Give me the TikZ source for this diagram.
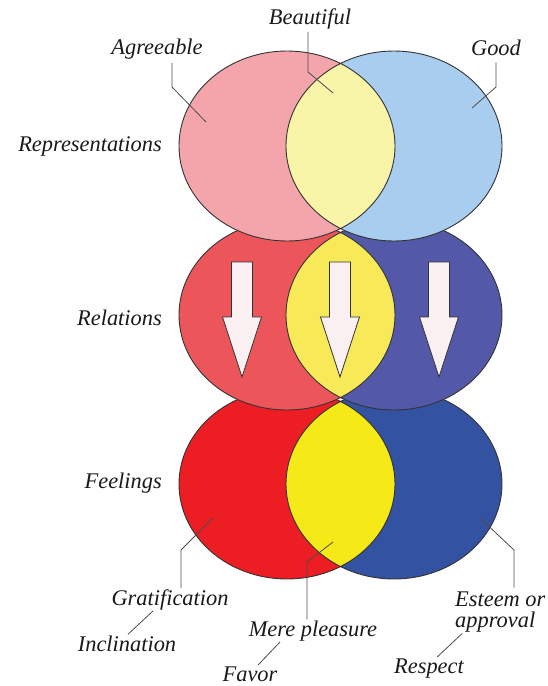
\documentclass[tikz,border=0pt]{standalone}
\usepackage{fontspec}
\setmainfont{Liberation Serif}
\usetikzlibrary{positioning,calc}
\definecolor{repL}{RGB}{244,165,171}
\definecolor{repR}{RGB}{169,205,238}
\definecolor{repM}{RGB}{248,244,168}
\definecolor{relL}{RGB}{236,86,90}
\definecolor{relR}{RGB}{84,88,168}
\definecolor{relM}{RGB}{248,233,88}
\definecolor{feeL}{RGB}{236,30,36}
\definecolor{feeR}{RGB}{51,82,162}
\definecolor{feeM}{RGB}{246,233,24}
\definecolor{arrw}{RGB}{251,240,241}
\tikzset{
  lbl/.style={font=\fontsize{22.4}{21}\selectfont\itshape,text=black!90,inner sep=1pt},
  ring/.style={line width=0.9pt,draw=black!80},
  lead/.style={line width=0.8pt,draw=black!70},
  downarr/.style={fill=arrw,draw=black!80,line width=0.8pt,line join=miter},
}
% one row of two overlapping ellipses: #1 = centre y, #2 left, #3 right, #4 lens
\newcommand{\vennrow}[4]{%
  \fill[#2] (287,#1) ellipse [x radius=108,y radius=95];
  \fill[#3] (394,#1) ellipse [x radius=108,y radius=95];
  \begin{scope}
    \clip (287,#1) ellipse [x radius=108,y radius=95];
    \fill[#4] (394,#1) ellipse [x radius=108,y radius=95];
  \end{scope}
  \draw[ring] (287,#1) ellipse [x radius=108,y radius=95]
              (394,#1) ellipse [x radius=108,y radius=95];}
\begin{document}
\begin{tikzpicture}[x=1pt,y=-1pt]
  \useasboundingbox (0,0) rectangle (548,686);
  % rows, bottom first so that each upper row lies over the one below
  \vennrow{484}{feeL}{feeR}{feeM}
  \vennrow{315}{relL}{relR}{relM}
  \vennrow{146}{repL}{repR}{repM}
  % downward arrows in the middle row
  \foreach \c in {242,340,439}
    \draw[downarr] (\c-10.5,262) -- (\c+10.5,262) -- (\c+10.5,317) -- (\c+19.5,317)
      -- (\c,377) -- (\c-19.5,317) -- (\c-10.5,317) -- cycle;
  % labels
  \node[lbl,anchor=base] (beau) at (310,24) {Beautiful};
  \node[lbl,anchor=base] (agr) at (157,54) {Agreeable};
  \node[lbl,anchor=base] (good) at (496,55) {Good};
  \node[lbl,anchor=base east] (repr) at (163,151) {Representations};
  \node[lbl,anchor=base east] (rel) at (163,325) {Relations};
  \node[lbl,anchor=base east] (feel) at (163,488) {Feelings};
  \node[lbl,anchor=base] (grat) at (170,605) {Gratification};
  \node[lbl,anchor=base] (incl) at (127,651) {Inclination};
  \node[lbl,anchor=base] (mere) at (313,636) {Mere pleasure};
  \node[lbl,anchor=base] (favor) at (250,681) {Favor};
  \node[lbl,anchor=west,align=left] (est) at (454,612) {Esteem or\\approval};
  \node[lbl,anchor=base] (resp) at (429,673) {Respect};
  % leader lines
  \coordinate (agrb) at (172,87);  \coordinate (agrp) at (206,122);
  \coordinate (beab) at (308,72);  \coordinate (beap) at (333,93);
  \coordinate (godb) at (496,87);  \coordinate (godp) at (472,108);
  \coordinate (grab) at (181,550); \coordinate (grap) at (213,518);
  \coordinate (merb) at (307,562); \coordinate (merp) at (333,542);
  \coordinate (estb) at (514,550); \coordinate (estp) at (480,518);
  \draw[lead,shorten <=3pt] (agr.south -| agrb) -- (agrb) -- (agrp);
  \draw[lead,shorten <=2pt] (beau.south -| beab) -- (beab) -- (beap);
  \draw[lead,shorten <=6pt] (good.south -| godb) -- (godb) -- (godp);
  \draw[lead] (grat.north -| grab) -- (grab) -- (grap);
  \draw[lead] (mere.north -| merb) -- (merb) -- (merp);
  \draw[lead,shorten <=3pt] (est.north -| estb) -- (estb) -- (estp);
  \draw[lead] ([xshift=1pt]incl.north) -- ([xshift=-17pt]grat.south);
  \draw[lead] ([xshift=8pt]favor.north) -- ([xshift=-33pt]mere.south);
  \draw[lead] ([xshift=8pt]resp.north) -- ([xshift=-38pt]est.south);
\end{tikzpicture}
\end{document}
